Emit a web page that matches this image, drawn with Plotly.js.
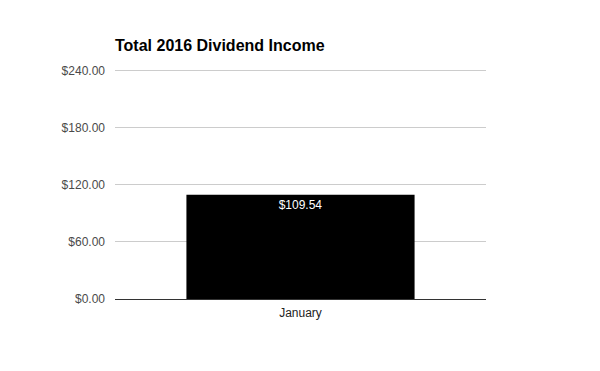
<!DOCTYPE html>
<html>
<head>
<meta charset="utf-8">
<script src="https://cdn.plot.ly/plotly-3.0.1.min.js"></script>
<style>html,body{margin:0;padding:0;background:#fff;}#chart{width:600px;height:371px;}</style>
</head>
<body>
<div id="chart"></div>
<script>
const categories = ["January"];
const values = [109.54];
const valueLabels = ["$109.54"];
const yTicks = [0, 60, 120, 180, 240];
const yTickLabels = ["$0.00", "$60.00", "$120.00", "$180.00", "$240.00"];

const trace = {
  type: 'bar',
  x: categories,
  y: values,
  text: valueLabels,
  textposition: 'inside',
  insidetextanchor: 'end',
  textfont: {family: 'Liberation Sans, Arial, sans-serif', size: 12, color: '#ffffff'},
  marker: {color: '#000000'},
  width: 0.615,
  hoverinfo: 'none'
};

const layout = {
  width: 600, height: 371,
  margin: {l: 115, r: 114, t: 67, b: 72},
  paper_bgcolor: '#ffffff', plot_bgcolor: '#ffffff',
  showlegend: false,
  title: {
    text: '<b>Total 2016 Dividend Income</b>',
    font: {family: 'Liberation Sans, Arial, sans-serif', size: 16, color: '#000000'},
    xref: 'paper', x: 0, xanchor: 'left',
    yref: 'container', y: 1 - 45/371, yanchor: 'middle'
  },
  xaxis: {
    showgrid: false, zeroline: false, showline: false,
    ticks: '', ticklabelstandoff: 5,
    tickfont: {family: 'Liberation Sans, Arial, sans-serif', size: 12, color: '#222222'},
    fixedrange: true
  },
  yaxis: {
    range: [0, 244], tickmode: 'array', tickvals: yTicks, ticktext: yTickLabels,
    showgrid: true, gridcolor: '#cccccc', gridwidth: 1,
    zeroline: true, zerolinecolor: '#333333', zerolinewidth: 1,
    showline: false, ticks: '', ticklabelstandoff: 9,
    tickfont: {family: 'Liberation Sans, Arial, sans-serif', size: 12, color: '#4a4a4a'},
    fixedrange: true
  }
};

Plotly.newPlot('chart', [trace], layout, {displayModeBar: false, staticPlot: true});
</script>
</body>
</html>
